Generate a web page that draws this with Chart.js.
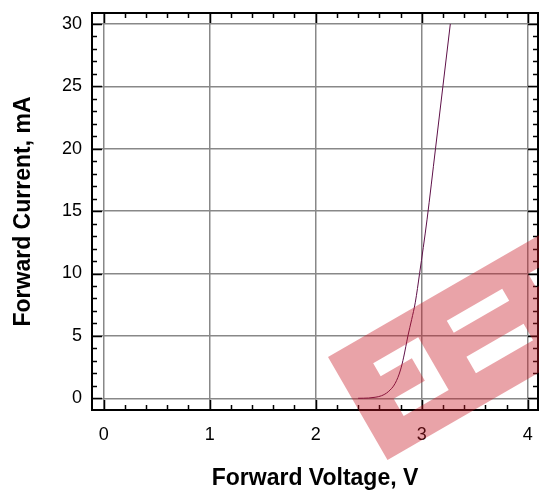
<!DOCTYPE html>
<html>
<head>
<meta charset="utf-8">
<script src="https://cdn.jsdelivr.net/npm/chart.js@4/dist/chart.umd.min.js"></script>
<style>
  body { margin: 0; background: #fff; }
  #wrap { width: 539px; height: 492px; }
</style>
</head>
<body>
<div id="wrap"><canvas id="myChart" width="539" height="492"></canvas></div>
<script>
// LED forward characteristic
const voltage = [2.40, 2.50, 2.56, 2.62, 2.685, 2.75, 2.80, 2.83, 2.87, 2.905, 2.94, 2.98, 3.05, 3.13, 3.20, 3.27];
const current = [0, 0.02, 0.08, 0.2, 0.53, 1.2, 2.27, 3.3, 5.0, 6.3, 7.7, 10, 14.3, 20, 25, 30];

const xTicks = [0, 1, 2, 3, 4];
const yTicks = [0, 5, 10, 15, 20, 25, 30];
const xMinorStep = 0.2;
const yMinorStep = 1;

const FONT = "'Liberation Sans', Arial, sans-serif";

const points = voltage.map((v, i) => ({ x: v, y: current[i] }));

// no extra room for overhanging labels, the frame is placed by layout.padding
function noOverhang(scale) {
  scale.paddingLeft = 0;
  scale.paddingRight = 0;
  scale.paddingTop = 0;
  scale.paddingBottom = 0;
}

// spines + inward tick marks on all four sides
const framePlugin = {
  id: 'frame',
  afterDatasetsDraw(chart) {
    const { ctx, chartArea: a, scales } = chart;
    const xs = scales.x, ys = scales.y;
    ctx.save();
    ctx.strokeStyle = '#000';
    ctx.lineWidth = 1.5;
    ctx.beginPath();
    for (let v = Math.ceil(xs.min / xMinorStep) * xMinorStep; v <= xs.max + 1e-9; v += xMinorStep) {
      const major = Math.abs(v - Math.round(v)) < 1e-6;
      const len = major ? 10 : 5;
      const px = Math.round(xs.getPixelForValue(v)) + 0.5;
      ctx.moveTo(px, a.bottom); ctx.lineTo(px, a.bottom - len);
      ctx.moveTo(px, a.top); ctx.lineTo(px, a.top + len);
    }
    for (let v = Math.ceil(ys.min / yMinorStep) * yMinorStep; v <= ys.max + 1e-9; v += yMinorStep) {
      const major = Math.round(v) % 5 === 0;
      const len = major ? 10 : 5;
      const py = Math.round(ys.getPixelForValue(v)) + 0.5;
      ctx.moveTo(a.left, py); ctx.lineTo(a.left + len, py);
      ctx.moveTo(a.right, py); ctx.lineTo(a.right - len, py);
    }
    ctx.stroke();
    ctx.lineWidth = 2;
    ctx.strokeRect(a.left, a.top, a.right - a.left, a.bottom - a.top);
    ctx.restore();
  }
};

// translucent red logo stamp over the lower right
const stampPlugin = {
  id: 'stamp',
  afterDraw(chart) {
    const ctx = chart.ctx;
    ctx.save();
    ctx.translate(328, 357);
    ctx.rotate(-Math.PI / 6);
    ctx.beginPath();
    ctx.rect(0, 0, 330, 119);
    // cut-outs
    ctx.moveTo(36, 28); ctx.lineTo(88, 28); ctx.lineTo(88, 89); ctx.lineTo(36, 89);
    ctx.lineTo(36, 69); ctx.lineTo(72, 69); ctx.lineTo(72, 43); ctx.lineTo(36, 43); ctx.closePath();
    ctx.rect(121, 28, 64, 14);
    ctx.rect(120, 69, 66, 19);
    ctx.rect(215, 28, 60, 16);
    ctx.fillStyle = 'rgba(200, 25, 37, 0.4)';
    ctx.fill('evenodd');
    ctx.restore();
  }
};

const config = {
  type: 'scatter',
  data: {
    datasets: [{
      data: points,
      showLine: true,
      borderColor: '#5e1048',
      borderWidth: 1,
      pointRadius: 0,
      cubicInterpolationMode: 'monotone',
      fill: false,
    }],
  },
  options: {
    responsive: false,
    animation: false,
    layout: { padding: { top: 13, right: 1, left: 0, bottom: 0 } },
    plugins: {
      legend: { display: false },
      tooltip: { enabled: false },
    },
    scales: {
      x: {
        type: 'linear',
        min: -0.11,
        max: 4.097,
        afterBuildTicks(scale) { scale.ticks = xTicks.map(v => ({ value: v })); },
        afterFit(scale) { scale.height = 82; noOverhang(scale); },
        grid: { color: '#888', lineWidth: 1.5, drawTicks: false },
        border: { display: false },
        ticks: { color: '#000', padding: 14, maxRotation: 0, font: { family: FONT, size: 18 } },
        title: {
          display: true,
          text: 'Forward Voltage, V',
          color: '#000',
          padding: { top: 0, bottom: 0 },
          font: { family: FONT, size: 23, weight: 'bold' },
        },
      },
      y: {
        type: 'linear',
        min: -0.94,
        max: 30.88,
        afterBuildTicks(scale) { scale.ticks = yTicks.map(v => ({ value: v })); },
        afterFit(scale) { scale.width = 92; noOverhang(scale); },
        grid: { color: '#888', lineWidth: 1.5, drawTicks: false },
        border: { display: false },
        ticks: { color: '#000', padding: 10, font: { family: FONT, size: 18 } },
        title: {
          display: true,
          text: 'Forward Current, mA',
          color: '#000',
          padding: { top: 10, bottom: 0 },
          font: { family: FONT, size: 23, weight: 'bold' },
        },
      },
    },
  },
  plugins: [framePlugin, stampPlugin],
};

const myChart = new Chart(document.getElementById('myChart'), config);
</script>
</body>
</html>
